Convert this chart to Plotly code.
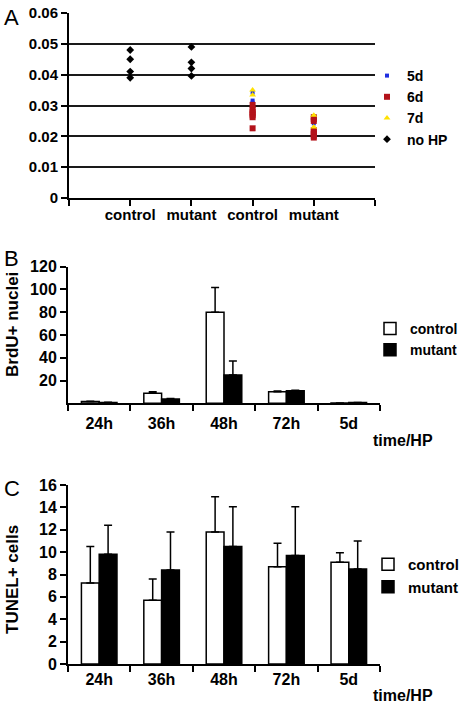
import plotly.graph_objects as go

W, H = 469, 704

# ---------------- Panel A data ----------------
a_tick_labels = ["", "control", "mutant", "control", "mutant", ""]
a_tick_pos = [0, 1, 2, 3, 4, 5]
a_nohp_control = [0.048, 0.045, 0.041, 0.039]
a_nohp_mutant = [0.049, 0.044, 0.042, 0.0396]
a_5d_control = [0.0342, 0.0316, 0.0309]
a_5d_mutant = [0.0242]
a_6d_control = [0.0302, 0.0286, 0.0280, 0.0274, 0.0268, 0.0262, 0.0226]
a_6d_mutant = [0.0262, 0.0256, 0.0250, 0.0220, 0.0214, 0.0208, 0.0202, 0.0196]
a_7d_control = [0.0350, 0.0334]
a_7d_mutant = [0.0268, 0.0230]
a_yticks = [0, 0.01, 0.02, 0.03, 0.04, 0.05, 0.06]
a_ytick_labels = ["0", "0.01", "0.02", "0.03", "0.04", "0.05", "0.06"]

# ---------------- Panel B data ----------------
times = ["24h", "36h", "48h", "72h", "5d"]
b_control = [1.5, 8.8, 80, 10.2, 0.3]
b_control_err = [0.4, 1.4, 21.8, 0.6, 0.0]
b_mutant = [0.7, 3.8, 24.8, 11.1, 0.6]
b_mutant_err = [0.2, 0.5, 12.3, 0.3, 0.1]
b_yticks = [20, 40, 60, 80, 100, 120]

# ---------------- Panel C data ----------------
c_control = [7.25, 5.7, 11.8, 8.7, 9.1]
c_control_err = [3.25, 1.9, 3.15, 2.1, 0.85]
c_mutant = [9.8, 8.4, 10.5, 9.7, 8.5]
c_mutant_err = [2.6, 3.4, 3.55, 4.35, 2.5]
c_yticks = [0, 2, 4, 6, 8, 10, 12, 14, 16]

FONT = "Liberation Sans, Arial, sans-serif"

def px_x(p):
    return p / W

def px_y(p):
    return (H - p) / H

fig = go.Figure()

# ---- Panel A traces ----
def col(xpos, vals):
    return [xpos] * len(vals)

fig.add_trace(go.Scatter(
    x=col(a_tick_pos[3], a_5d_control) + col(a_tick_pos[4], a_5d_mutant),
    y=a_5d_control + a_5d_mutant,
    mode="markers", name="5d",
    marker=dict(symbol="square", size=4, color="#1f2fe0"),
    xaxis="x", yaxis="y", legend="legend"))
fig.add_trace(go.Scatter(
    x=col(a_tick_pos[3], a_6d_control) + col(a_tick_pos[4], a_6d_mutant),
    y=a_6d_control + a_6d_mutant,
    mode="markers", name="6d",
    marker=dict(symbol="square", size=6, color="#b3121a"),
    xaxis="x", yaxis="y", legend="legend"))
fig.add_trace(go.Scatter(
    x=col(a_tick_pos[3], a_7d_control) + col(a_tick_pos[4], a_7d_mutant),
    y=a_7d_control + a_7d_mutant,
    mode="markers", name="7d",
    marker=dict(symbol="triangle-up", size=6, color="#ffe100"),
    xaxis="x", yaxis="y", legend="legend"))
fig.add_trace(go.Scatter(
    x=col(a_tick_pos[1], a_nohp_control) + col(a_tick_pos[2], a_nohp_mutant),
    y=a_nohp_control + a_nohp_mutant,
    mode="markers", name="no HP",
    marker=dict(symbol="diamond", size=6, color="black"),
    xaxis="x", yaxis="y", legend="legend"))

# ---- Panel B / C bar traces ----
def bars(name, vals, errs, color, xa, ya, lg):
    return go.Bar(
        x=times, y=vals, name=name,
        marker=dict(color=color, line=dict(color="black", width=1.5)),
        error_y=dict(type="data", symmetric=False, array=errs,
                     arrayminus=[0] * len(errs), color="black",
                     thickness=1.5, width=4),
        xaxis=xa, yaxis=ya, legend=lg)

fig.add_trace(bars("control", b_control, b_control_err, "white", "x2", "y2", "legend2"))
fig.add_trace(bars("mutant", b_mutant, b_mutant_err, "black", "x2", "y2", "legend2"))
fig.add_trace(bars("control", c_control, c_control_err, "white", "x3", "y3", "legend3"))
fig.add_trace(bars("mutant", c_mutant, c_mutant_err, "black", "x3", "y3", "legend3"))

axis_common = dict(showline=True, linecolor="black", linewidth=2,
                   ticks="outside", ticklen=6, tickwidth=2, tickcolor="black",
                   zeroline=False, fixedrange=True, automargin=False)

fig.update_layout(
    width=W, height=H,
    margin=dict(l=0, r=0, t=0, b=0, pad=0, autoexpand=False),
    paper_bgcolor="white", plot_bgcolor="white",
    font=dict(family=FONT, size=14, color="black", weight="bold"),
    barmode="group", bargap=0.43, bargroupgap=0,
    # Panel A axes
    xaxis=dict(domain=[px_x(69), px_x(375)], range=[0, 5],
               tickmode="array", tickvals=a_tick_pos, ticktext=a_tick_labels,
               ticklabelstandoff=-4,
               showgrid=False, anchor="y", tickfont=dict(size=15), **axis_common),
    yaxis=dict(domain=[px_y(198), px_y(13)], range=[0, 0.06],
               tickmode="array", tickvals=a_yticks, ticktext=a_ytick_labels,
               showgrid=True, gridcolor="#1a1a1a", gridwidth=1.5,
               anchor="x", tickfont=dict(size=15), **axis_common),
    # Panel B axes
    xaxis2=dict(domain=[px_x(68), px_x(380)], type="category",
                range=[-0.5, 4.5], tickson="boundaries", ticklabelstandoff=4,
                showgrid=False, anchor="y2", tickfont=dict(size=16), **axis_common),
    yaxis2=dict(domain=[px_y(403.3), px_y(266.7)], range=[0, 120],
                tickmode="array", tickvals=b_yticks,
                showgrid=False, anchor="x2", tickfont=dict(size=16), **axis_common),
    # Panel C axes
    xaxis3=dict(domain=[px_x(68), px_x(380)], type="category",
                range=[-0.5, 4.5], tickson="boundaries",
                showgrid=False, anchor="y3", tickfont=dict(size=16), **axis_common),
    yaxis3=dict(domain=[px_y(664), px_y(485)], range=[0, 16],
                tickmode="array", tickvals=c_yticks,
                showgrid=False, anchor="x3", tickfont=dict(size=16), **axis_common),
    legend=dict(x=px_x(367), y=px_y(60), xanchor="left", yanchor="top",
                font=dict(size=14), bgcolor="rgba(0,0,0,0)", traceorder="normal"),
    legend2=dict(x=px_x(370), y=px_y(313), xanchor="left", yanchor="top",
                 font=dict(size=14), bgcolor="rgba(0,0,0,0)", traceorder="normal"),
    legend3=dict(x=px_x(368), y=px_y(548), xanchor="left", yanchor="top",
                 font=dict(size=15), bgcolor="rgba(0,0,0,0)", traceorder="normal"),
    showlegend=True,
)

ann = []
for letter, ytop in (("A", 3), ("B", 244), ("C", 474)):
    ann.append(dict(text=letter, x=px_x(2), y=px_y(ytop), xref="paper", yref="paper",
                    xanchor="left", yanchor="top", showarrow=False,
                    font=dict(size=22, weight="normal", family=FONT)))
for yc in (440, 695):
    ann.append(dict(text="time/HP", x=px_x(403), y=px_y(yc), xref="paper", yref="paper",
                    xanchor="center", yanchor="middle", showarrow=False,
                    font=dict(size=16)))
ann.append(dict(text="BrdU+ nuclei", x=px_x(12), y=px_y(325), xref="paper", yref="paper",
                xanchor="center", yanchor="middle", textangle=-90, showarrow=False,
                font=dict(size=17)))
ann.append(dict(text="TUNEL+ cells", x=px_x(12), y=px_y(580), xref="paper", yref="paper",
                xanchor="center", yanchor="middle", textangle=-90, showarrow=False,
                font=dict(size=17)))
fig.update_layout(annotations=ann)

fig.write_html("out.html", config={"displayModeBar": False},
               post_script="document.body.style.margin='0';")
